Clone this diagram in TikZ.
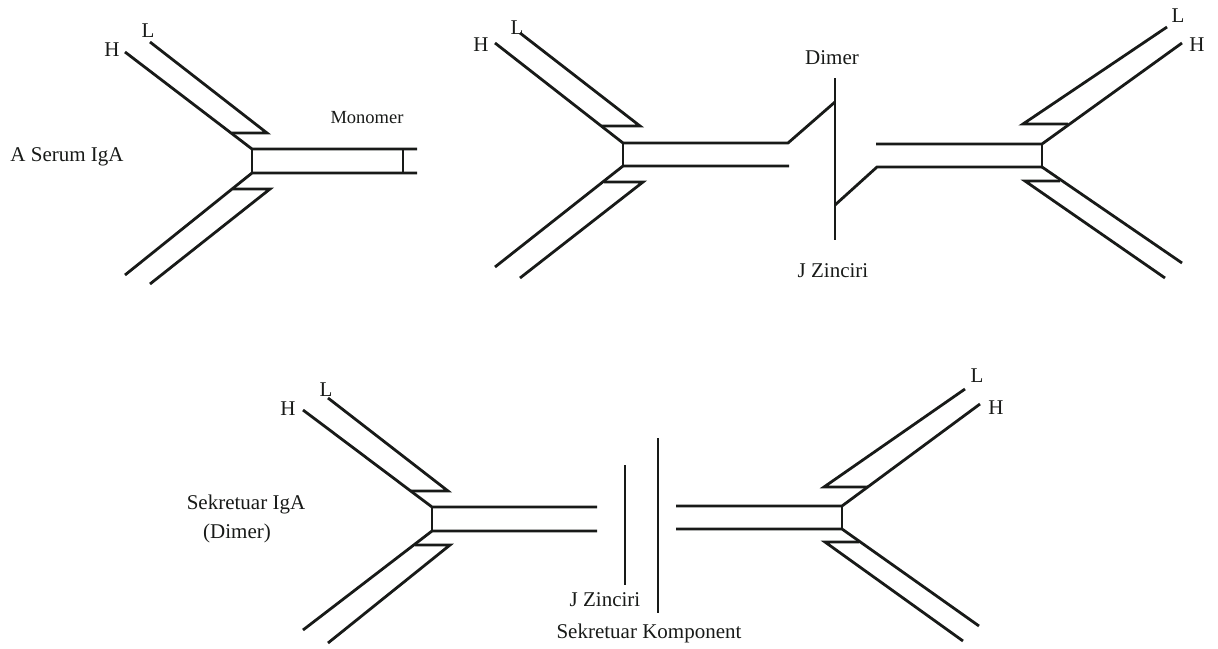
\documentclass[tikz,border=0pt]{standalone}
\usepackage{fontspec}
\setmainfont{Liberation Serif}
\definecolor{ink}{RGB}{24,26,24}
\begin{document}
\begin{tikzpicture}[x=1pt,y=-1pt,
  chain/.style={draw=ink,line width=2.8pt,line join=miter},
  thin chain/.style={draw=ink,line width=2.0pt},
  lbl/.style={text=ink,inner sep=0pt,font=\fontsize{21}{25}\selectfont},
  small lbl/.style={text=ink,inner sep=0pt,font=\fontsize{18.5}{22}\selectfont}]
\useasboundingbox (0,0) rectangle (1218,648);

% ---------- Serum IgA monomer ----------
\coordinate (m-top) at (252,149);
\coordinate (m-bot) at (252,173);
\draw[chain] (125,52) -- (m-top) -- (417,149);
\draw[chain] (150,42) -- (267,133) -- (232,133);
\draw[thin chain] (m-top) -- (m-bot);
\draw[chain] (125,275) -- (m-bot) -- (417,173);
\draw[chain] (150,284) -- (270,189) -- (233,189);
\draw[thin chain] (403,149) -- (403,173);
\node[lbl] (m-h) at (112,50) {H};
\node[lbl] (m-l) at (148,31) {L};
\node[lbl] (m-name) at (67,157) {A Serum IgA};
\node[small lbl] (m-mono) at (367,118) {Monomer};

% ---------- Dimer joined by the J chain ----------
\coordinate (d1-top) at (623,143);
\coordinate (d1-bot) at (623,166);
\draw[chain] (495,43) -- (d1-top) -- (788,143) -- (835,102);
\draw[chain] (520,33) -- (640,126) -- (602,126);
\draw[thin chain] (d1-top) -- (d1-bot);
\draw[chain] (495,267) -- (d1-bot) -- (789,166);
\draw[chain] (520,278) -- (643,182) -- (604,182);
\draw[chain] (835,78) -- (835,240);

\coordinate (d2-top) at (1042,144);
\coordinate (d2-bot) at (1042,167);
\draw[chain] (835,205) -- (877,167) -- (d2-bot);
\draw[chain] (876,144) -- (d2-top) -- (1182,43);
\draw[chain] (1167,27) -- (1023,124) -- (1068,124);
\draw[thin chain] (d2-top) -- (d2-bot);
\draw[chain] (d2-bot) -- (1182,263);
\draw[chain] (1165,278) -- (1025,181) -- (1060,181);

\node[lbl] (d1-h) at (481,45) {H};
\node[lbl] (d1-l) at (517,28) {L};
\node[lbl] (d2-l) at (1178,16) {L};
\node[lbl] (d2-h) at (1197,45) {H};
\node[lbl] (d-dimer) at (832,58) {Dimer};
\node[lbl] (d-j) at (833,271) {J Zinciri};

% ---------- Secretory IgA (dimer) ----------
\coordinate (s1-top) at (432,507);
\coordinate (s1-bot) at (432,531);
\draw[chain] (303,410) -- (s1-top) -- (597,507);
\draw[chain] (328,398) -- (448,491) -- (411,491);
\draw[thin chain] (s1-top) -- (s1-bot);
\draw[chain] (303,630) -- (s1-bot) -- (597,531);
\draw[chain] (328,643) -- (450,545) -- (415,545);

\draw[chain] (625,465) -- (625,585);
\draw[chain] (658,438) -- (658,613);

\coordinate (s2-top) at (842,506);
\coordinate (s2-bot) at (842,529);
\draw[chain] (676,506) -- (s2-top) -- (980,404);
\draw[chain] (965,389) -- (824,487) -- (868,487);
\draw[thin chain] (s2-top) -- (s2-bot);
\draw[chain] (676,529) -- (s2-bot) -- (979,626);
\draw[chain] (963,641) -- (825,542) -- (859,542);

\node[lbl] (s1-h) at (288,409) {H};
\node[lbl] (s1-l) at (326,390) {L};
\node[lbl] (s2-l) at (977,376) {L};
\node[lbl] (s2-h) at (996,408) {H};
\node[lbl] (s-name) at (246,504) {Sekretuar IgA};
\node[lbl] (s-dimer) at (237,533) {(Dimer)};
\node[lbl] (s-j) at (605,600) {J Zinciri};
\node[lbl] (s-comp) at (649,633) {Sekretuar Komponent};
\end{tikzpicture}
\end{document}
